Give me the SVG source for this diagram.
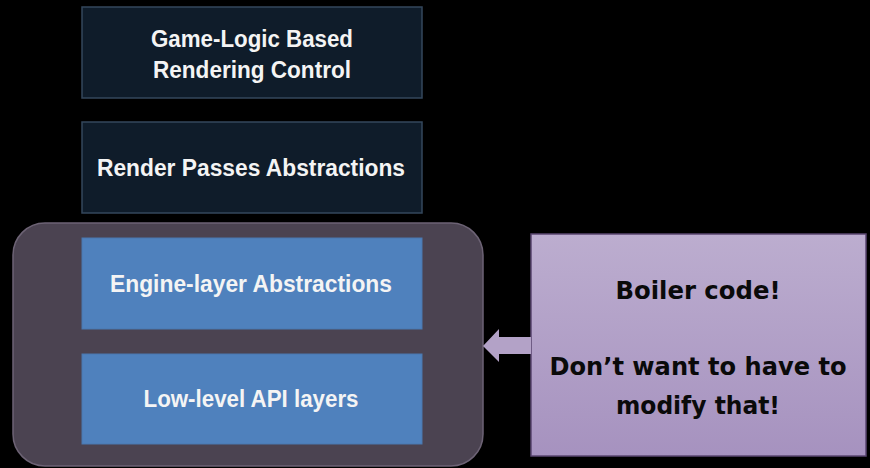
<svg xmlns="http://www.w3.org/2000/svg" width="870" height="468" viewBox="0 0 870 468">
  <defs>
    <linearGradient id="noteFill" x1="0" y1="0" x2="0" y2="1">
      <stop offset="0" stop-color="#bcadcf"/>
      <stop offset="1" stop-color="#a692bf"/>
    </linearGradient>
    <style>
      .dark { fill: #0f1c2a; stroke: #34475c; stroke-width: 1.5; }
      .blue { fill: #4f81bd; stroke: #4a78b0; stroke-width: 1; }
      .lbl { font-family: "Liberation Sans", Arial, sans-serif; font-weight: bold; font-size: 23px; fill: #f4f4f4; text-anchor: middle; }
      .note { font-family: "DejaVu Sans", Verdana, sans-serif; font-weight: bold; font-size: 24px; fill: #0a0a0a; text-anchor: middle; }
    </style>
  </defs>
  <rect width="870" height="468" fill="#000"/>

  <!-- grouping frame around the engine layers -->
  <g id="engine-frame">
    <rect x="13" y="223" width="470" height="243" rx="32" fill="#4b4351" stroke="#6d6375" stroke-width="1.5"/>
  </g>

  <g id="game-logic">
    <rect class="dark" x="82" y="7" width="340" height="91"/>
    <text class="lbl" x="252" y="47" textLength="202" lengthAdjust="spacingAndGlyphs">Game-Logic Based</text>
    <text class="lbl" x="252" y="78" textLength="198" lengthAdjust="spacingAndGlyphs">Rendering Control</text>
  </g>

  <g id="render-passes">
    <rect class="dark" x="82" y="122" width="340" height="91"/>
    <text class="lbl" x="251" y="176" textLength="308" lengthAdjust="spacingAndGlyphs">Render Passes Abstractions</text>
  </g>

  <g id="engine-layer">
    <rect class="blue" x="82" y="238" width="340" height="91"/>
    <text class="lbl" x="251" y="292" textLength="282" lengthAdjust="spacingAndGlyphs">Engine-layer Abstractions</text>
  </g>

  <g id="low-level-api">
    <rect class="blue" x="82" y="354" width="340" height="90"/>
    <text class="lbl" x="251" y="407" textLength="215" lengthAdjust="spacingAndGlyphs">Low-level API layers</text>
  </g>

  <g id="boiler-note">
    <rect x="531" y="234" width="335" height="222" fill="url(#noteFill)" stroke="#5a4670" stroke-width="1.5"/>
    <text class="note" x="698" y="299" textLength="165" lengthAdjust="spacingAndGlyphs">Boiler code!</text>
    <text class="note" x="698" y="375" textLength="297" lengthAdjust="spacingAndGlyphs">Don’t want to have to</text>
    <text class="note" x="698" y="414" textLength="164" lengthAdjust="spacingAndGlyphs">modify that!</text>
  </g>

  <g id="connectors">
    <polygon points="531,337 499,337 499,329 483,346 499,362 499,354 531,354" fill="#b3a2c7"/>
  </g>
</svg>
